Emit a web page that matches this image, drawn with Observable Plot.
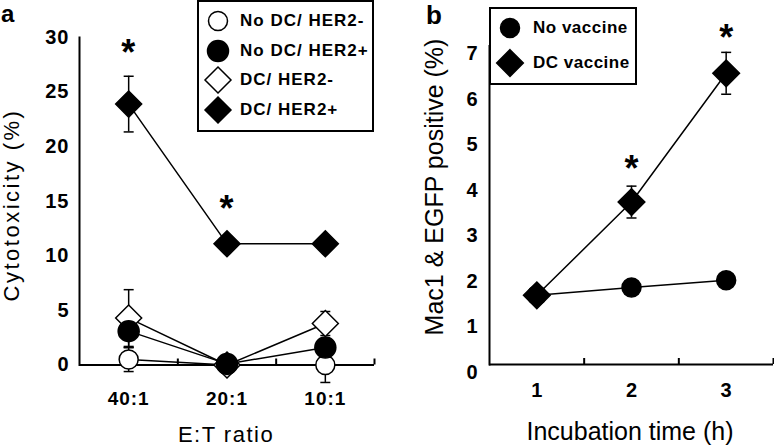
<!DOCTYPE html>
<html><head><meta charset="utf-8">
<script src="https://cdn.jsdelivr.net/npm/d3@7"></script>
<script src="https://cdn.jsdelivr.net/npm/@observablehq/plot@0.6"></script>
<style>
html,body{margin:0;padding:0;background:#fff;}
#chart{position:relative;width:774px;height:447px;overflow:hidden;font-family:"Liberation Sans",Arial,sans-serif;color:#000;background:#fff;}
.panel{position:absolute;top:0;}
.lbl{position:absolute;white-space:nowrap;line-height:0.8;color:#000;}
.legend{position:absolute;border:2px solid #000;background:#fff;box-sizing:border-box;}
</style></head><body><div id="chart"></div>
<script>
// ---------- data (panel a) ----------
const ratios = ["40:1", "20:1", "10:1"];
const seriesA = ["No DC/ HER2-", "No DC/ HER2+", "DC/ HER2-", "DC/ HER2+"];
const noDcHer2Neg    = [0.5, 0.0, 0.0];
const noDcHer2NegErr = [1.1, 0, 1.6];
const noDcHer2Pos    = [3.1, 0.1, 1.6];
const noDcHer2PosErr = [1.5, 0, 0];
const dcHer2Neg      = [4.3, 0.0, 3.8];
const dcHer2NegErr   = [2.6, 0, 1.1];
const dcHer2Pos      = [23.9, 11.1, 11.1];
const dcHer2PosErr   = [2.55, 0, 0];
const starsA = [29.1, 14.8, null];
const yTicksA = [0, 5, 10, 15, 20, 25, 30];

// ---------- data (panel b) ----------
const hours = [1, 2, 3];
const seriesB = ["No vaccine", "DC vaccine"];
const noVaccine    = [1.52, 1.69, 1.85];
const noVaccineErr = [0, 0, 0];
const dcVaccine    = [1.52, 3.57, 6.4];
const dcVaccineErr = [0.1, 0.35, 0.46];
const starsB = [null, 4.42, 7.3];
const yTicksB = [0, 1, 2, 3, 4, 5, 6, 7];

// ---------- styles ----------
const FONT = '"Liberation Sans", Arial, sans-serif';
const LH = 0.8; // line-height (em) of HTML labels
const stylesA = [
  {symbol: "circle", fill: "white", r: 9.5},
  {symbol: "circle", fill: "black", r: 10.5},
  {symbol: "diamond2", fill: "white", r: 11.7},
  {symbol: "diamond2", fill: "black", r: 11.7}
];
const drawOrderA = [0, 2, 1, 3];
const stylesB = [
  {symbol: "circle", fill: "black", r: 9.5},
  {symbol: "diamond2", fill: "black", r: 12}
];
const drawOrderB = [0, 1];
const cap = {draw(ctx, size) { const w = Math.sqrt(size / Math.PI); ctx.moveTo(-w, 0); ctx.lineTo(w, 0); }};

function makePanel(cfg) {
  const n = cfg.labels.length;
  const rows = cfg.series.flatMap((s, k) => cfg.labels.map((lab, i) => ({series: s, k, x: i, value: cfg.values[k][i], err: cfg.errs[k][i]})));
  const errRows = rows.filter(d => d.err > 0);
  const starRows = cfg.stars.map((y, i) => ({x: i, y})).filter(d => d.y != null);
  const centers = d3.range(n);
  const bounds = d3.range(n).map(i => i + 0.5);
  const dotMarks = cfg.order.map(k =>
    Plot.dot(rows.filter(d => d.k === k), {x: "x", y: "value", symbol: cfg.styles[k].symbol, r: cfg.styles[k].r,
      fill: cfg.styles[k].fill, stroke: "black", strokeWidth: 1.5}));
  return Plot.plot({
    width: cfg.width, height: 447,
    marginLeft: cfg.ml, marginRight: cfg.mr, marginTop: cfg.mt, marginBottom: cfg.mb,
    x: {domain: [-0.5, n - 0.5]},
    y: {domain: cfg.yDomain},
    style: {fontFamily: FONT, color: "black", background: "transparent", overflow: "visible", letterSpacing: cfg.ls + "px"},
    marks: [
      Plot.ruleY([0], {stroke: "black", strokeWidth: 2}),
      Plot.frame({anchor: "left", stroke: "black", strokeWidth: 2}),
      Plot.axisX({ticks: bounds, tickSize: -6, tickFormat: () => "", strokeWidth: 2, label: null}),
      Plot.axisX({ticks: centers, tickSize: 0, tickPadding: cfg.xPad, tickFormat: i => cfg.labels[i],
        fontSize: cfg.xFs, fontWeight: "bold", label: null}),
      Plot.axisY({ticks: cfg.yTicks, tickSize: 0, tickPadding: cfg.yPad, tickFormat: d3.format("d"),
        fontSize: cfg.yFs, fontWeight: "bold", dy: cfg.yDy, label: null}),
      Plot.line(rows, {x: "x", y: "value", z: "series", stroke: "black", strokeWidth: 1.5}),
      Plot.ruleX(errRows, {x: "x", y1: d => d.value - d.err, y2: d => d.value + d.err, stroke: "black", strokeWidth: 1.5}),
      Plot.dot(errRows, {x: "x", y: d => d.value + d.err, symbol: cap, r: 5, stroke: "black", strokeWidth: 1.5}),
      Plot.dot(errRows, {x: "x", y: d => d.value - d.err, symbol: cap, r: 5, stroke: "black", strokeWidth: 1.5}),
      ...dotMarks,
      Plot.text(starRows, {x: "x", y: "y", text: () => "*", fontSize: 36, fontWeight: "bold", dy: 6.5, fill: "black"})
    ]
  });
}

const chart = document.getElementById("chart");

const plotA = makePanel({
  width: 400, ml: 79, mr: 26, mt: 37, mb: 82.5,
  labels: ratios, series: seriesA, styles: stylesA, order: drawOrderA,
  values: [noDcHer2Neg, noDcHer2Pos, dcHer2Neg, dcHer2Pos],
  errs: [noDcHer2NegErr, noDcHer2PosErr, dcHer2NegErr, dcHer2PosErr],
  stars: starsA, yDomain: [0, 30], yTicks: yTicksA,
  xPad: 26, xFs: 19, yPad: 10, yFs: 20, yDy: 0, ls: 1
});
const plotB = makePanel({
  width: 374, ml: 89, mr: 1, mt: 45.5, mb: 83,
  labels: hours.map(String), series: seriesB, styles: stylesB, order: drawOrderB,
  values: [noVaccine, dcVaccine], errs: [noVaccineErr, dcVaccineErr],
  stars: starsB, yDomain: [0, 7], yTicks: yTicksB,
  xPad: 18, xFs: 20, yPad: 12, yFs: 20, yDy: 8, ls: 0
});

const pa = document.createElement("div"); pa.className = "panel"; pa.style.left = "0px"; pa.style.width = "400px"; pa.appendChild(plotA); chart.appendChild(pa);
const pb = document.createElement("div"); pb.className = "panel"; pb.style.left = "400px"; pb.style.width = "374px"; pb.appendChild(plotB); chart.appendChild(pb);

// ---------- text helpers ----------
const BASE = 0.905 + (LH - 1.117) / 2; // baseline offset from top of line box (em)
function addText(txt, o) {
  const d = document.createElement("div");
  d.className = "lbl"; d.textContent = txt;
  d.style.fontSize = o.size + "px";
  d.style.fontWeight = o.weight || "normal";
  d.style.letterSpacing = (o.ls || 0) + "px";
  if (o.rotate) {
    d.style.left = (o.baseX - (BASE - LH / 2) * o.size) + "px";
    d.style.top = o.cy + "px";
    d.style.transform = "translate(-50%,-50%) rotate(-90deg)";
  } else {
    d.style.top = (o.baseline - BASE * o.size) + "px";
    d.style.left = o.x + "px";
    if (o.anchor === "middle") d.style.transform = "translateX(-50%)";
  }
  chart.appendChild(d);
  return d;
}

addText("a", {x: 1, baseline: 22, size: 24, weight: "bold"});
addText("b", {x: 426, baseline: 24.5, size: 26, weight: "bold"});
addText("Cytotoxicity (%)", {rotate: true, baseX: 20, cy: 205, size: 22, ls: 2.5});
addText("E:T ratio", {x: 226, baseline: 442, size: 22, ls: 1.5, anchor: "middle"});
addText("Mac1 & EGFP positive (%)", {rotate: true, baseX: 443, cy: 187, size: 25, ls: 0});
addText("Incubation time (h)", {x: 630, baseline: 440, size: 25, ls: 0, anchor: "middle"});

// ---------- legends ----------
function symbolPath(style) {
  const type = style.symbol === "circle" ? d3.symbolCircle : d3.symbolDiamond2;
  return d3.symbol().type(type).size(Math.PI * style.r * style.r)();
}
function addLegend(box, names, styles, o) {
  const lg = document.createElement("div");
  lg.className = "legend";
  Object.assign(lg.style, {left: box.left + "px", top: box.top + "px", width: box.width + "px", height: box.height + "px"});
  chart.appendChild(lg);
  names.forEach((name, k) => {
    const cy = o.firstY + k * o.step;
    const svg = d3.create("svg").attr("width", 32).attr("height", 32)
      .style("position", "absolute").style("left", (o.symX - 16) + "px").style("top", (cy - 16) + "px").style("overflow", "visible");
    svg.append("path").attr("transform", "translate(16,16)").attr("d", symbolPath(styles[k]))
      .attr("fill", styles[k].fill).attr("stroke", "black").attr("stroke-width", 1.5);
    chart.appendChild(svg.node());
    addText(name, {x: o.textX, baseline: cy + 0.358 * o.size, size: o.size, weight: "bold", ls: o.ls});
  });
}
addLegend({left: 197, top: 0, width: 177, height: 132}, seriesA, stylesA,
  {firstY: 21, step: 29.5, symX: 218, textX: 240, size: 17, ls: 1});
addLegend({left: 489, top: 7, width: 148, height: 78}, seriesB, stylesB,
  {firstY: 28, step: 35, symX: 510, textX: 533, size: 17, ls: 0.5});
</script>
</body></html>
